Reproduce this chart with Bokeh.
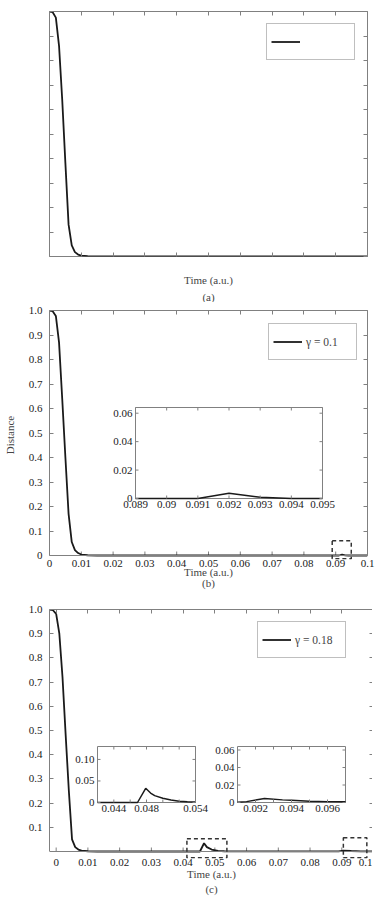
from bokeh.plotting import figure
from bokeh.models import (Range1d, FixedTicker, LinearAxis, Legend, LegendItem,
                          Title, BoxAnnotation, Span, CustomJSTickFormatter)
from bokeh.layouts import column
from bokeh.embed import file_html
from bokeh.resources import INLINE
from bokeh.core.properties import value

# ---------------- data ----------------
x_ticks = [0, 0.01, 0.02, 0.03, 0.04, 0.05, 0.06, 0.07, 0.08, 0.09, 0.1]
x_tick_labels = ["0", "0.01", "0.02", "0.03", "0.04", "0.05", "0.06", "0.07", "0.08", "0.09", "0.1"]
y_ticks = [0, 0.1, 0.2, 0.3, 0.4, 0.5, 0.6, 0.7, 0.8, 0.9, 1.0]
y_tick_labels = ["0", "0.1", "0.2", "0.3", "0.4", "0.5", "0.6", "0.7", "0.8", "0.9", "1.0"]
y_ticks_c = [0.1, 0.2, 0.3, 0.4, 0.5, 0.6, 0.7, 0.8, 0.9, 1.0]
y_tick_labels_c = ["0.1", "0.2", "0.3", "0.4", "0.5", "0.6", "0.7", "0.8", "0.9", "1.0"]

# panel (a)
time_a = [0, 0.001, 0.002, 0.003, 0.004, 0.005, 0.006, 0.007, 0.008, 0.009, 0.010, 0.012, 0.015, 0.02, 0.1]
dist_a = [1.0, 0.997, 0.975, 0.86, 0.64, 0.38, 0.13, 0.045, 0.018, 0.008, 0.004, 0.001, 0.0, 0.0, 0.0]

# panel (b)
time_b = [0, 0.001, 0.002, 0.003, 0.004, 0.005, 0.006, 0.007, 0.008, 0.009, 0.010, 0.012, 0.015, 0.02,
          0.091, 0.092, 0.093, 0.094, 0.1]
dist_b = [1.0, 0.997, 0.978, 0.87, 0.64, 0.40, 0.17, 0.055, 0.022, 0.01, 0.004, 0.001, 0.0, 0.0,
          0.0, 0.0037, 0.0008, 0.0, 0.0]
inset_b_time = [0.089, 0.090, 0.091, 0.092, 0.093, 0.094, 0.095]
inset_b_dist = [0.0, 0.0, 0.0, 0.0037, 0.0008, 0.0, 0.0]
inset_b_xticks = [0.089, 0.090, 0.091, 0.092, 0.093, 0.094, 0.095]
inset_b_xlabels = ["0.089", "0.09", "0.091", "0.092", "0.093", "0.094", "0.095"]
inset_b_yticks = [0, 0.02, 0.04, 0.06]
inset_b_ylabels = ["0", "0.02", "0.04", "0.06"]
zoom_box_b = (0.0889, 0.0949, -0.0135, 0.060)

# panel (c)
time_c = [-0.0021, -0.001, 0.0, 0.001, 0.002, 0.003, 0.004, 0.005, 0.006, 0.007, 0.008, 0.010, 0.013,
          0.0453, 0.0466, 0.0475, 0.049, 0.051, 0.053, 0.089, 0.0905, 0.093, 0.096, 0.1]
dist_c = [1.0, 0.997, 0.982, 0.90, 0.72, 0.48, 0.25, 0.05, 0.018, 0.008, 0.004, 0.001, 0.0,
          0.0, 0.034, 0.018, 0.008, 0.003, 0.001, 0.0005, 0.004, 0.002, 0.0008, 0.0003]
inset_c1_time = [0.042, 0.0469, 0.0479, 0.0485, 0.049, 0.050, 0.051, 0.052, 0.053, 0.054]
inset_c1_dist = [0.0, 0.0, 0.033, 0.022, 0.016, 0.010, 0.006, 0.003, 0.0015, 0.001]
inset_c1_xticks = [0.044, 0.046, 0.048, 0.050, 0.052, 0.054]
inset_c1_xlabels = ["0.044", "", "0.048", "", "", "0.054"]
inset_c1_yticks = [0, 0.05, 0.10]
inset_c1_ylabels = ["0", "0.05", "0.10"]
inset_c2_time = [0.091, 0.0915, 0.0925, 0.0935, 0.094, 0.095, 0.096, 0.097]
inset_c2_dist = [0.0003, 0.001, 0.0045, 0.003, 0.0025, 0.0015, 0.001, 0.0008]
inset_c2_xticks = [0.092, 0.093, 0.094, 0.095, 0.096]
inset_c2_xlabels = ["0.092", "", "0.094", "", "0.096"]
inset_c2_yticks = [0, 0.02, 0.04, 0.06]
inset_c2_ylabels = ["0", "0.02", "0.04", "0.06"]
zoom_box_c1 = (0.0412, 0.0538, -0.026, 0.0525)
zoom_box_c2 = (0.0905, 0.0979, -0.026, 0.0566)

legend_labels = ["", "γ = 0.1", "γ = 0.18"]
captions = ["(a)", "(b)", "(c)"]

# ---------------- style ----------------
FONT = "Liberation Serif"
GRAY = "#808080"
INK = "#1a1a1a"
FS = "11px"

FMT_CODE = """
for (let i = 0; i < tv.length; i++) { if (Math.abs(tv[i] - tick) < 1e-9) return tl[i]; }
return "";
"""


def style_axis(ax, ticks, labels, standoff=2, hidden=False):
    ax.ticker = FixedTicker(ticks=ticks)
    ax.formatter = CustomJSTickFormatter(args=dict(tv=ticks, tl=labels), code=FMT_CODE)
    ax.axis_line_color = None
    ax.major_tick_in = 4
    ax.major_tick_out = 0
    ax.major_tick_line_color = GRAY
    ax.minor_tick_line_color = None
    ax.major_label_text_font = FONT
    ax.major_label_text_font_size = "0px" if hidden else FS
    ax.major_label_text_color = INK
    ax.major_label_standoff = standoff


def make_panel(xr, yr, fw, fh, borders, xt, xl, yt, yl, ylabel, caption,
               xstand=2, lab_stand=0, cap_stand=0.0, hide_labels=False, ybase=None):
    """ybase: if given, the frame reaches below y=0 (so the zoom boxes can cross
    the axis); the visible box is then drawn from y=0 upward."""
    bl, br, bt, bb = borders
    p = figure(frame_width=fw, frame_height=fh, x_range=Range1d(*xr), y_range=Range1d(*yr),
               output_backend="svg", toolbar_location=None,
               min_border_left=bl, min_border_right=br, min_border_top=bt, min_border_bottom=bb)
    p.grid.visible = False
    p.background_fill_color = "white"
    p.border_fill_color = "white"
    bottom_ax = p.below[0]
    left_ax = p.left[0]
    style_axis(bottom_ax, xt, xl, xstand, hide_labels)
    style_axis(left_ax, yt, yl, 7, hide_labels)
    top = LinearAxis()
    style_axis(top, xt, ["" for _ in xt], 0, True)
    right = LinearAxis()
    style_axis(right, yt, ["" for _ in yt], 0, True)
    p.add_layout(top, "above")
    p.add_layout(right, "right")
    if ybase is None:
        p.outline_line_color = GRAY
        p.outline_line_width = 1
    else:
        p.outline_line_color = None
        for ax in (left_ax, right):
            ax.axis_line_color = GRAY
            ax.bounds = (ybase, yr[1])
        top.axis_line_color = GRAY
        bottom_ax.major_tick_line_color = None
        p.add_layout(Span(location=ybase, dimension="width", line_color=GRAY, line_width=1))
        tick_len = 4.0 / fh * (yr[1] - yr[0])
        n = len(xt)
        p.segment(x0=xt, y0=[ybase] * n, x1=xt, y1=[ybase + tick_len] * n, line_color=GRAY)
    bottom_ax.axis_label = "Time (a.u.)"
    bottom_ax.axis_label_text_font = FONT
    bottom_ax.axis_label_text_font_size = FS
    bottom_ax.axis_label_text_font_style = "normal"
    bottom_ax.axis_label_standoff = lab_stand
    if ylabel:
        left_ax.axis_label = ylabel
        left_ax.axis_label_text_font = FONT
        left_ax.axis_label_text_font_size = FS
        left_ax.axis_label_text_font_style = "normal"
        left_ax.axis_label_standoff = 10
    p.add_layout(Title(text=caption, align="center", text_font=FONT, text_font_size=FS,
                       text_font_style="normal", standoff=cap_stand), "below")
    return p


def add_legend(p, r, label, loc):
    leg = Legend(items=[LegendItem(label=value(label), renderers=[r])], location=loc,
                 label_text_font=FONT, label_text_font_size="11.5px", glyph_width=29,
                 glyph_height=27, label_standoff=4, label_width=46, padding=4, margin=0,
                 spacing=0, border_line_color=GRAY, border_line_width=1,
                 background_fill_color="white", background_fill_alpha=1)
    p.add_layout(leg)


def add_inset(p, frame, box, xs, ys, xr, yr, xt, xl, yt, yl):
    fl, fb, fw, fh, pxr, pyr = frame
    left, right, top, bottom = box

    def px2x(px):
        return pxr[0] + (px - fl) / fw * (pxr[1] - pxr[0])

    def py2y(py):
        return pyr[0] + (fb - py) / fh * (pyr[1] - pyr[0])

    sub = p.subplot(x_source=Range1d(*xr), y_source=Range1d(*yr),
                    x_target=Range1d(px2x(left), px2x(right)),
                    y_target=Range1d(py2y(bottom), py2y(top)))
    x0, x1 = xr
    y0, y1 = yr
    sub.quad(left=[x0], right=[x1], bottom=[y0], top=[y1], fill_color="white",
             line_color=GRAY, line_width=1)
    sub.line(xs, ys, line_color=INK, line_width=1.5)
    w = right - left
    h = bottom - top
    ty = 3.0 / h * (y1 - y0)
    tx = 3.0 / w * (x1 - x0)
    n = len(xt)
    m = len(yt)
    sub.segment(x0=xt, y0=[y0] * n, x1=xt, y1=[y0 + ty] * n, line_color=GRAY)
    sub.segment(x0=xt, y0=[y1] * n, x1=xt, y1=[y1 - ty] * n, line_color=GRAY)
    sub.segment(x0=[x0] * m, y0=yt, x1=[x0 + tx] * m, y1=yt, line_color=GRAY)
    sub.segment(x0=[x1] * m, y0=yt, x1=[x1 - tx] * m, y1=yt, line_color=GRAY)
    sub.text(x=xt, y=[y0] * n, text=xl, text_align="center", text_baseline="top",
             y_offset=2, text_font=value(FONT), text_font_size=FS, text_color=INK)
    sub.text(x=[x0] * m, y=yt, text=yl, text_align="right", text_baseline="middle",
             x_offset=-3, text_font=value(FONT), text_font_size=FS, text_color=INK)


def dashed_box(p, box):
    l, r, b, t = box
    p.add_layout(BoxAnnotation(left=l, right=r, bottom=b, top=t, fill_alpha=0,
                               line_color="#333333", line_alpha=1.0, line_width=1.5,
                               line_dash="4 3", level="overlay"))


# ---------------- panel (a) ----------------
xr_ab = (0, 0.1)
pa = make_panel(xr_ab, (0, 1.0), 318, 245, (44, 9, 11, 44), x_ticks, ["" for _ in x_ticks],
                y_ticks, ["" for _ in y_ticks], None, captions[0],
                xstand=0, lab_stand=17, cap_stand=0, hide_labels=True)
ra = pa.line(time_a, dist_a, line_color=INK, line_width=1.8)
add_legend(pa, ra, legend_labels[0], (217, 196))

# ---------------- panel (b) ----------------
yb_b = -4.0 / 245
pb = make_panel(xr_ab, (yb_b, 1.0), 318, 249, (44, 9, 8, 34), x_ticks, x_tick_labels,
                y_ticks, y_tick_labels, "Distance", captions[1],
                xstand=0, lab_stand=-4, cap_stand=-11, ybase=0.0)
rb = pb.line(time_b, dist_b, line_color=INK, line_width=1.8)
add_legend(pb, rb, legend_labels[1], (219, 199))
frame_b = (50, 554, 318, 245, xr_ab, (0, 1.0))
add_inset(pb, frame_b, (136, 323, 406, 497), inset_b_time, inset_b_dist, (0.089, 0.095), (0, 0.064),
          inset_b_xticks, inset_b_xlabels, inset_b_yticks, inset_b_ylabels)
dashed_box(pb, zoom_box_b)

# ---------------- panel (c) ----------------
xr_c = (-0.0021, 0.1)
yb_c = -7.0 / 242
pc = make_panel(xr_c, (yb_c, 1.0), 324, 249, (40, 8, 16, 40), x_ticks, x_tick_labels,
                y_ticks_c, y_tick_labels_c, None, captions[2],
                xstand=0, lab_stand=-1, cap_stand=-4, ybase=0.0)
rc = pc.line(time_c, dist_c, line_color=INK, line_width=1.8)
add_legend(pc, rc, legend_labels[2], (225, 200))
frame_c = (47, 851, 324, 242, xr_c, (0, 1.0))
add_inset(pc, frame_c, (95, 193, 746, 802), inset_c1_time, inset_c1_dist, (0.042, 0.054), (0, 0.13),
          inset_c1_xticks, inset_c1_xlabels, inset_c1_yticks, inset_c1_ylabels)
add_inset(pc, frame_c, (235, 343, 746, 802), inset_c2_time, inset_c2_dist, (0.091, 0.097), (0, 0.064),
          inset_c2_xticks, inset_c2_xlabels, inset_c2_yticks, inset_c2_ylabels)
dashed_box(pc, zoom_box_c1)
dashed_box(pc, zoom_box_c2)

layout = column(pa, pb, pc, spacing=0)
open("out.html", "w").write(file_html(layout, INLINE))
